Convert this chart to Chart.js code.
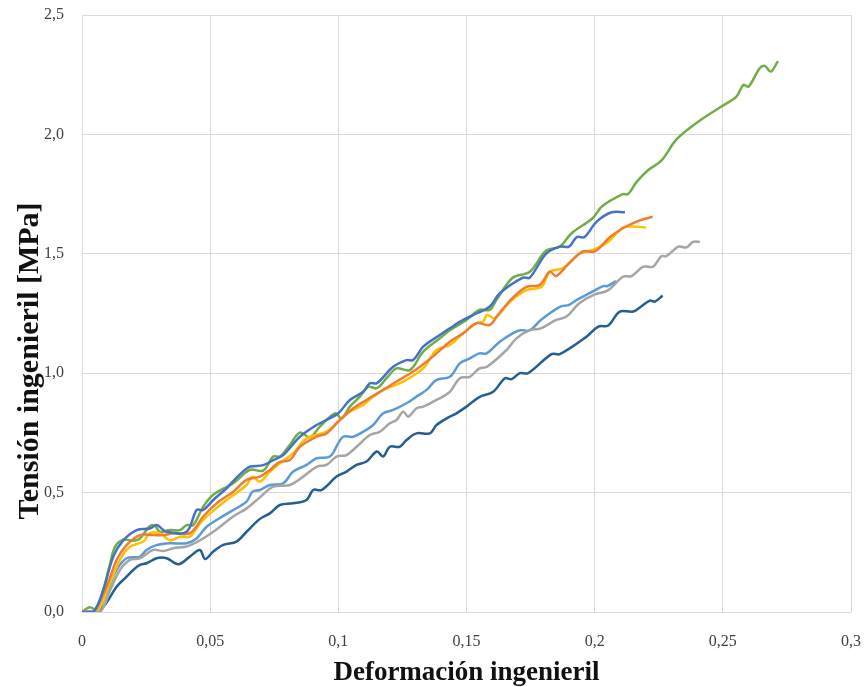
<!DOCTYPE html>
<html>
<head>
<meta charset="utf-8">
<script src="https://cdn.jsdelivr.net/npm/chart.js@4.4.1/dist/chart.umd.min.js"></script>
<style>
  html, body { margin: 0; padding: 0; background: #fff; }
  canvas { display: block; }
</style>
</head>
<body>
<canvas id="curvas" width="864" height="687"></canvas>
<script>
// ticks
const xTicks = ["0", "0,05", "0,1", "0,15", "0,2", "0,25", "0,3"];
const yTicks = ["0,0", "0,5", "1,0", "1,5", "2,0", "2,5"];

// probeta 1 (azul)
const x1 = [0, 0.0044, 0.0083, 0.0122, 0.0161, 0.0213, 0.0265, 0.0291, 0.033, 0.0408, 0.0447, 0.0473, 0.0512, 0.0564, 0.060, 0.063, 0.0655, 0.0707, 0.0746, 0.0785, 0.085, 0.0915, 0.0954, 0.100, 0.1045, 0.1097, 0.1123, 0.115, 0.1214, 0.1266, 0.1292, 0.1331, 0.1396, 0.1435, 0.1487, 0.1539, 0.159, 0.163, 0.172, 0.1747, 0.181, 0.1864, 0.190, 0.193, 0.196, 0.2007, 0.2066, 0.2118];
const y1 = [0, 0, 0.092, 0.232, 0.30, 0.343, 0.35, 0.364, 0.336, 0.336, 0.427, 0.427, 0.469, 0.518, 0.56, 0.59, 0.608, 0.615, 0.636, 0.657, 0.734, 0.783, 0.804, 0.832, 0.888, 0.922, 0.958, 0.958, 1.027, 1.055, 1.055, 1.111, 1.16, 1.188, 1.223, 1.25, 1.278, 1.335, 1.40, 1.40, 1.50, 1.53, 1.53, 1.57, 1.57, 1.634, 1.674, 1.674];

// probeta 2 (naranja)
const x2 = [0, 0.0044, 0.0096, 0.0135, 0.0174, 0.0226, 0.0278, 0.0317, 0.0356, 0.0421, 0.0473, 0.0525, 0.059, 0.0642, 0.0694, 0.0733, 0.0772, 0.0811, 0.085, 0.0915, 0.0954, 0.1006, 0.1058, 0.111, 0.1175, 0.1227, 0.1292, 0.1344, 0.1383, 0.1435, 0.1487, 0.1539, 0.159, 0.1623, 0.168, 0.1734, 0.1786, 0.1825, 0.185, 0.190, 0.1955, 0.200, 0.206, 0.211, 0.2176, 0.2226];
const y2 = [0, 0, 0.106, 0.218, 0.28, 0.322, 0.322, 0.322, 0.33, 0.33, 0.40, 0.455, 0.504, 0.553, 0.567, 0.595, 0.629, 0.636, 0.692, 0.734, 0.748, 0.804, 0.853, 0.888, 0.93, 0.965, 1.007, 1.048, 1.083, 1.132, 1.167, 1.209, 1.202, 1.244, 1.315, 1.362, 1.37, 1.425, 1.407, 1.46, 1.51, 1.51, 1.57, 1.607, 1.64, 1.655];

// probeta 3 (gris)
const x3 = [0, 0.007, 0.011, 0.0148, 0.0187, 0.0226, 0.0278, 0.0317, 0.0356, 0.0408, 0.046, 0.0512, 0.059, 0.0642, 0.0694, 0.0746, 0.0811, 0.0863, 0.0915, 0.0954, 0.0993, 0.1032, 0.1071, 0.1123, 0.1162, 0.1201, 0.1227, 0.1253, 0.1273, 0.1305, 0.1331, 0.1383, 0.1435, 0.1474, 0.1513, 0.155, 0.158, 0.1656, 0.1695, 0.1747, 0.179, 0.185, 0.189, 0.194, 0.1994, 0.2053, 0.211, 0.2144, 0.219, 0.2228, 0.226, 0.228, 0.2326, 0.2358, 0.2384, 0.241];
const y3 = [0, 0, 0.092, 0.176, 0.218, 0.225, 0.26, 0.255, 0.267, 0.274, 0.30, 0.336, 0.40, 0.434, 0.48, 0.525, 0.532, 0.567, 0.608, 0.616, 0.651, 0.657, 0.692, 0.741, 0.755, 0.79, 0.804, 0.839, 0.818, 0.853, 0.86, 0.888, 0.922, 0.979, 0.985, 1.02, 1.027, 1.097, 1.146, 1.18, 1.188, 1.223, 1.237, 1.293, 1.327, 1.348, 1.404, 1.407, 1.446, 1.446, 1.49, 1.49, 1.53, 1.527, 1.55, 1.55];

// probeta 4 (amarillo)
const x4 = [0, 0.0057, 0.011, 0.0148, 0.0187, 0.0239, 0.0265, 0.0304, 0.0343, 0.0382, 0.0421, 0.046, 0.05, 0.0564, 0.0642, 0.0665, 0.0694, 0.0733, 0.0772, 0.0824, 0.0876, 0.0954, 0.1006, 0.1045, 0.1097, 0.1136, 0.1175, 0.1253, 0.1331, 0.1383, 0.1435, 0.1487, 0.1539, 0.1565, 0.158, 0.161, 0.167, 0.1734, 0.1793, 0.1825, 0.1877, 0.194, 0.1994, 0.2053, 0.211, 0.215, 0.220];
const y4 = [0, 0, 0.123, 0.218, 0.273, 0.295, 0.33, 0.33, 0.30, 0.315, 0.315, 0.371, 0.413, 0.469, 0.532, 0.567, 0.546, 0.588, 0.623, 0.665, 0.727, 0.755, 0.804, 0.839, 0.867, 0.902, 0.93, 0.965, 1.02, 1.097, 1.118, 1.167, 1.209, 1.216, 1.244, 1.23, 1.30, 1.348, 1.362, 1.425, 1.44, 1.50, 1.516, 1.55, 1.61, 1.614, 1.61];

// probeta 5 (azul claro)
const x5 = [0, 0.0057, 0.0096, 0.0135, 0.0174, 0.0226, 0.0252, 0.0291, 0.0343, 0.0408, 0.0447, 0.0486, 0.0525, 0.059, 0.0642, 0.0665, 0.0694, 0.0733, 0.0785, 0.0824, 0.0876, 0.0915, 0.0967, 0.100, 0.1019, 0.1058, 0.1097, 0.1136, 0.1175, 0.1214, 0.1266, 0.1305, 0.1344, 0.1383, 0.1435, 0.1474, 0.1513, 0.155, 0.1578, 0.163, 0.168, 0.171, 0.1747, 0.179, 0.1864, 0.190, 0.193, 0.198, 0.2033, 0.205, 0.2083];
const y5 = [0, 0, 0.078, 0.176, 0.225, 0.232, 0.26, 0.28, 0.288, 0.288, 0.308, 0.357, 0.385, 0.427, 0.462, 0.504, 0.511, 0.532, 0.539, 0.588, 0.616, 0.644, 0.651, 0.707, 0.734, 0.734, 0.755, 0.783, 0.832, 0.846, 0.874, 0.902, 0.93, 0.972, 0.985, 1.041, 1.062, 1.083, 1.083, 1.132, 1.167, 1.18, 1.18, 1.223, 1.278, 1.286, 1.307, 1.335, 1.365, 1.365, 1.386];

// probeta 6 (verde)
const x6 = [0, 0.003, 0.0057, 0.0083, 0.011, 0.0129, 0.0161, 0.02, 0.0226, 0.0265, 0.0285, 0.0304, 0.0343, 0.0382, 0.0408, 0.0434, 0.0473, 0.0511, 0.059, 0.0655, 0.0707, 0.0746, 0.0772, 0.0811, 0.085, 0.0889, 0.0928, 0.0987, 0.1013, 0.1045, 0.1084, 0.1117, 0.115, 0.1188, 0.1227, 0.1279, 0.1331, 0.1396, 0.1435, 0.15, 0.155, 0.159, 0.1617, 0.168, 0.1747, 0.181, 0.1864, 0.191, 0.1993, 0.203, 0.211, 0.213, 0.2163, 0.2208, 0.226, 0.232, 0.240, 0.2499, 0.2553, 0.258, 0.260, 0.2644, 0.2664, 0.2687, 0.2715];
const y6 = [0, 0.02, 0.01, 0.092, 0.204, 0.273, 0.303, 0.298, 0.308, 0.36, 0.36, 0.336, 0.343, 0.343, 0.364, 0.364, 0.441, 0.49, 0.539, 0.595, 0.592, 0.651, 0.651, 0.70, 0.751, 0.732, 0.776, 0.832, 0.811, 0.86, 0.902, 0.943, 0.937, 0.979, 1.02, 1.013, 1.09, 1.146, 1.18, 1.223, 1.265, 1.265, 1.307, 1.40, 1.425, 1.513, 1.53, 1.586, 1.65, 1.70, 1.75, 1.75, 1.80, 1.85, 1.89, 1.98, 2.05, 2.12, 2.158, 2.207, 2.2, 2.277, 2.287, 2.263, 2.307];

// probeta 7 (azul oscuro)
const x7 = [0, 0.0044, 0.0083, 0.0135, 0.0174, 0.02, 0.0226, 0.0252, 0.0291, 0.033, 0.0376, 0.0421, 0.046, 0.048, 0.0512, 0.0551, 0.0603, 0.0642, 0.0694, 0.0733, 0.0772, 0.0824, 0.0876, 0.0902, 0.0935, 0.0993, 0.1032, 0.1071, 0.111, 0.115, 0.1175, 0.1201, 0.124, 0.1266, 0.1305, 0.1357, 0.1383, 0.1435, 0.1461, 0.15, 0.155, 0.1604, 0.165, 0.1676, 0.1708, 0.174, 0.1832, 0.1864, 0.1968, 0.2014, 0.2053, 0.2098, 0.215, 0.218, 0.2215, 0.2235, 0.2265];
const y7 = [0, 0, 0.022, 0.106, 0.148, 0.176, 0.197, 0.204, 0.225, 0.225, 0.20, 0.232, 0.26, 0.222, 0.253, 0.281, 0.295, 0.336, 0.39, 0.413, 0.448, 0.455, 0.469, 0.511, 0.511, 0.567, 0.588, 0.616, 0.63, 0.672, 0.651, 0.692, 0.692, 0.72, 0.748, 0.748, 0.783, 0.818, 0.832, 0.86, 0.90, 0.922, 0.979, 0.975, 1.0, 1.0, 1.08, 1.08, 1.153, 1.195, 1.20, 1.258, 1.258, 1.278, 1.304, 1.30, 1.325];

const series = [
  [x1, y1, "#4472C4"],
  [x2, y2, "#ED7D31"],
  [x3, y3, "#A5A5A5"],
  [x4, y4, "#FFC000"],
  [x5, y5, "#5B9BD5"],
  [x6, y6, "#70AD47"],
  [x7, y7, "#255E91"]
];

const serif = "'Liberation Serif', 'DejaVu Serif', serif";

// titulo del eje y, dibujado a mano para poder centrarlo como en el original
const yTitle = {
  id: 'yTitle',
  afterDraw(chart) {
    const ctx = chart.ctx;
    ctx.save();
    ctx.translate(30, 361);
    ctx.rotate(-Math.PI / 2);
    ctx.font = "bold 30px " + serif;
    ctx.fillStyle = "#111";
    ctx.textAlign = "center";
    ctx.textBaseline = "middle";
    ctx.fillText("Tensión ingenieril [MPa]", 0, 0);
    ctx.restore();
  }
};

// sin relleno extra por las etiquetas, el area del grafico queda fija
const noPad = s => {
  s.paddingLeft = 0; s.paddingRight = 0; s.paddingTop = 0; s.paddingBottom = 0;
};

new Chart(document.getElementById("curvas"), {
  type: 'scatter',
  data: {
    datasets: series.map(s => ({
      data: s[0].map((x, i) => ({ x: x, y: s[1][i] })),
      showLine: true,
      borderColor: s[2],
      backgroundColor: s[2],
      borderWidth: 2.5,
      pointRadius: 0,
      tension: 0.35
    }))
  },
  options: {
    responsive: false,
    animation: false,
    layout: { padding: { left: 0, top: 15, right: 13, bottom: 0 } },
    plugins: {
      legend: { display: false },
      tooltip: { enabled: false }
    },
    scales: {
      x: {
        type: 'linear',
        min: 0,
        max: 0.3,
        ticks: {
          stepSize: 0.05,
          padding: 20,
          maxRotation: 0,
          color: "#404040",
          font: { family: serif, size: 16 },
          callback: (v, i) => xTicks[i]
        },
        grid: { color: "#d9d9d9", lineWidth: 1, drawTicks: false },
        border: { display: false },
        title: {
          display: true,
          text: "Deformación ingenieril",
          color: "#111",
          font: { family: serif, size: 27, weight: 'bold', lineHeight: 1.0 },
          padding: { top: 0, bottom: 0 }
        },
        afterFit: s => { s.height = 75; noPad(s); }
      },
      y: {
        min: 0,
        max: 2.5,
        ticks: {
          stepSize: 0.5,
          padding: 18,
          color: "#404040",
          font: { family: serif, size: 16 },
          callback: (v, i) => yTicks[i]
        },
        grid: { color: "#d9d9d9", lineWidth: 1, drawTicks: false },
        border: { display: false },
        afterFit: s => { s.width = 82; noPad(s); }
      }
    }
  },
  plugins: [yTitle]
});
</script>
</body>
</html>
